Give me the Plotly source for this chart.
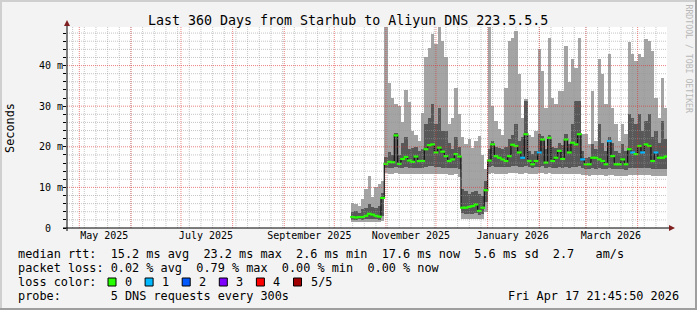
import plotly.graph_objects as go
import pandas as pd

# ---------------- data (ms) ----------------
FIRST_SAMPLE = "2025-10-12"   # one sample every 2 days
LO  = [1.4,1.5,1.5,1.4,1.6,1.6,1.5,1.5,1.4,1.8,
       13.6,13.4,13.4,13.5,13.4,13.3,13.3,13.2,13.2,13.3,
       13.2,13.2,13.3,13.4,13.4,13.3,13.3,13.2,13.2,13.1,
       13.1,13.2,12.5,2.3,2.3,2.2,2.2,2.3,2.1,2.2,
       4.0,13.4,13.5,13.4,13.4,13.4,13.4,13.5,13.5,13.5,
       13.4,13.4,13.5,13.4,13.4,13.4,13.5,13.5,13.4,13.5,
       13.3,13.3,13.3,13.2,13.3,13.2,13.3,13.3,13.3,13.1,
       13.0,12.9,13.0,13.0,13.1,13.0,12.9,13.0,13.0,12.9,
       12.9,12.9,12.8,13.0,13.0,13.0,13.1,13.0,13.1,13.1,
       12.9,12.9,12.8,12.9,12.8]
DLO = [2.0,2.0,2.1,2.0,2.2,2.3,2.2,2.1,2.0,3.0,
       14.8,14.8,14.9,15.0,14.9,14.9,15.0,14.8,14.8,14.9,
       14.8,14.8,15.0,15.2,15.3,15.0,15.0,14.9,14.9,14.8,
       14.8,14.9,14.5,3.6,3.5,3.5,3.5,3.6,3.3,3.4,
       6.5,15.0,15.2,15.0,15.0,15.0,15.0,15.1,15.2,15.2,
       15.0,15.0,15.2,15.0,14.9,15.0,15.1,15.2,14.9,15.1,
       14.9,14.9,15.0,14.8,15.0,14.9,15.0,15.1,15.2,14.7,
       14.6,14.5,14.7,14.6,14.7,14.6,14.5,14.7,14.6,14.5,
       14.5,14.5,14.4,14.7,14.7,14.7,14.8,14.7,14.8,14.8,
       14.6,14.6,14.5,14.6,14.5]
MED = [2.7,2.6,2.7,2.7,3.0,3.5,3.3,3.0,2.8,7.4,
       15.8,16.3,16.2,22.8,15.8,17.0,17.5,16.6,16.3,17.6,
       16.5,16.5,19.4,20.4,20.6,18.6,19.8,18.8,17.7,16.5,
       16.9,18.2,17.6,5.0,5.0,5.2,5.4,5.8,4.2,5.0,
       9.3,16.6,20.6,17.7,17.3,16.9,16.5,17.7,20.5,20.2,
       18.6,17.3,23.1,16.5,15.7,16.5,18.6,21.8,16.1,22.2,
       16.5,17.3,19.0,17.0,21.8,18.6,21.0,20.6,23.1,16.9,
       15.7,15.7,17.3,17.3,16.9,16.5,15.7,21.4,17.7,15.7,
       15.7,16.9,15.7,19.4,18.6,18.2,20.2,18.6,20.6,20.2,
       16.5,18.6,17.3,17.3,17.6]
DHI = [4.0,4.3,3.8,4.6,5.0,5.8,5.2,5.0,5.5,8.5,
       17.5,18.6,18.0,23.5,18.0,21.0,22.3,19.5,19.8,20.0,
       19.0,19.5,25.5,27.2,30.5,25.5,29.6,23.9,23.9,21.0,
       19.5,22.3,20.0,9.5,9.0,8.3,8.8,9.1,8.3,8.0,
       11.5,19.5,21.5,20.0,19.8,19.5,20.0,22.0,23.0,25.5,
       21.4,22.3,31.3,19.0,18.2,19.0,23.1,22.6,19.5,22.8,
       20.0,19.8,21.0,20.5,23.1,20.6,25.5,31.3,31.3,19.0,
       17.3,17.5,20.6,19.5,25.5,21.0,19.0,22.3,21.0,19.0,
       18.5,20.6,19.0,28.0,27.2,25.5,28.0,23.9,26.4,28.0,
       22.3,23.9,21.0,26.4,22.0]
HI  = [6.2,5.8,5.4,7.2,9.5,12.8,7.6,10.0,10.8,11.6,
       50.0,35.8,32.0,30.5,30.0,26.0,34.0,31.0,24.0,23.0,
       21.5,28.4,42.0,44.4,47.7,45.2,50.0,46.0,42.0,25.5,
       27.2,34.6,28.0,22.3,20.6,21.8,19.8,21.4,22.7,18.0,
       14.5,50.0,30.0,26.4,24.5,23.0,34.6,46.0,46.9,48.5,
       37.9,27.2,31.8,23.0,22.3,23.9,44.0,38.7,29.6,46.9,
       32.1,30.5,33.8,33.8,44.8,36.0,41.6,39.5,46.9,23.1,
       23.1,20.6,33.8,21.4,41.6,37.9,30.5,42.8,29.6,25.5,
       21.4,25.5,23.1,45.7,42.8,41.1,42.8,42.0,46.5,46.1,
       43.6,32.1,27.2,37.0,29.6]
LOSS = [0,0,0,0,0,0,0,0,0,0,
        0,0,0,0,0,0,0,0,0,0,
        0,0,0,0,0,0,0,0,0,0,
        0,0,0,0,0,0,0,0,0,0,
        0,0,0,0,0,0,0,0,0,0,
        0,1,0,0,0,0,1,0,0,0,
        0,0,0,0,0,0,0,0,0,1,
        0,0,0,0,0,0,0,1,0,0,
        0,0,0,0,1,0,0,1,0,0,
        0,1,0,0,0]

LOSS_LABELS = ["0", "1", "2", "3", "4", "5/5"]
LOSS_COLORS = ["#26ff00", "#00b8ff", "#0059ff", "#7e00ff", "#ff0000", "#a10000"]

X_START = "2025-04-23 15:00"
X_END = "2026-04-18 15:00"
MONTH_GRID = ["2025-05-01", "2025-06-01", "2025-07-01", "2025-08-01", "2025-09-01",
              "2025-10-01", "2025-11-01", "2025-12-01", "2026-01-01", "2026-02-01",
              "2026-03-01", "2026-04-01"]
LABEL_DATES = ["2025-05-16", "2025-07-16", "2025-09-16", "2025-11-16", "2026-01-16", "2026-03-16"]
LABEL_TEXT = ["May 2025", "July 2025", "September 2025", "November 2025", "January 2026", "March 2026"]
Y_TICKS = [0, 10, 20, 30, 40]
Y_TICKTEXT = ["0\u00a0\u00a0", "10 m", "20 m", "30 m", "40 m"]
Y_MAX = 49.5

TITLE = "Last 360 Days from Starhub to Aliyun DNS 223.5.5.5"
LEGEND_LINES = [
    "median rtt:  15.2 ms avg  23.2 ms max  2.6 ms min  17.6 ms now  5.6 ms sd  2.7   am/s",
    "packet loss: 0.02 % avg  0.79 % max  0.00 % min  0.00 % now",
    "loss color:",
    "probe:       5 DNS requests every 300s",
]
DATE_STAMP = "Fri Apr 17 21:45:50 2026"

# ---------------- figure ----------------
W, H = 697, 310
L, R, T, B = 67, 30, 27, 82
PW, PH = W - L - R, H - T - B
MONO = "DejaVu Sans Mono"

def px(x):
    return (x - L) / PW

def py(y):
    return (H - B - y) / PH

dates = pd.date_range(FIRST_SAMPLE, periods=len(MED), freq="2D")
day = pd.Timedelta(days=1)
bw = 2 * 86400000

fig = go.Figure()
fig.add_trace(go.Bar(x=dates, base=LO, y=[h - l for h, l in zip(HI, LO)], width=bw,
                     marker=dict(color="#a4a4a4", line=dict(width=0)), hoverinfo="skip"))
fig.add_trace(go.Bar(x=dates, base=DLO, y=[h - l for h, l in zip(DHI, DLO)], width=bw,
                     marker=dict(color="#585858", line=dict(width=0)), hoverinfo="skip"))
step_x = list(dates - day) + [dates[-1] + day]
step_y = MED + [MED[-1]]
fig.add_trace(go.Scatter(x=step_x, y=step_y, mode="lines", line=dict(shape="hv", color="#111111", width=1.2),
                         hoverinfo="skip"))
fig.add_trace(go.Scatter(x=dates, y=MED, mode="markers",
                         marker=dict(symbol="line-ew", size=3.5,
                                     line=dict(width=2.2, color=[LOSS_COLORS[l] for l in LOSS])),
                         hoverinfo="skip"))

shapes = []
GRID_GRAY = "rgba(150,150,150,0.55)"
GRID_RED = "rgba(222,48,48,0.6)"
DASH = "1px,1px"
for d in pd.date_range("2025-04-27", X_END, freq="7D"):
    shapes.append(dict(type="line", xref="x", yref="paper", x0=d, x1=d, y0=0, y1=1,
                       line=dict(color=GRID_GRAY, width=1, dash=DASH), layer="above"))
for v in range(2, int(Y_MAX) + 1, 2):
    if v % 10:
        shapes.append(dict(type="line", xref="paper", yref="y", x0=0, x1=1, y0=v, y1=v,
                           line=dict(color=GRID_GRAY, width=1, dash=DASH), layer="above"))
for d in MONTH_GRID:
    shapes.append(dict(type="line", xref="x", yref="paper", x0=d, x1=d, y0=0, y1=1,
                       line=dict(color=GRID_RED, width=1, dash=DASH), layer="above"))
for v in Y_TICKS[1:]:
    shapes.append(dict(type="line", xref="paper", yref="y", x0=0, x1=1, y0=v, y1=v,
                       line=dict(color=GRID_RED, width=1, dash=DASH), layer="above"))

# axes with arrows
shapes.append(dict(type="line", xref="paper", yref="paper", x0=px(67), x1=px(67), y0=py(231), y1=py(24),
                   line=dict(color="black", width=1), layer="above"))
shapes.append(dict(type="line", xref="paper", yref="paper", x0=px(63), x1=px(671), y0=py(228), y1=py(228),
                   line=dict(color="black", width=1), layer="above"))
shapes.append(dict(type="path", xref="paper", yref="paper",
                   path=f"M {px(64)} {py(26)} L {px(70)} {py(26)} L {px(67)} {py(20)} Z",
                   fillcolor="#7f1f1f", line=dict(width=0), layer="above"))
shapes.append(dict(type="path", xref="paper", yref="paper",
                   path=f"M {px(669)} {py(225)} L {px(669)} {py(231)} L {px(675)} {py(228)} Z",
                   fillcolor="#7f1f1f", line=dict(width=0), layer="above"))
# frame
shapes.append(dict(type="line", xref="paper", yref="paper", x0=px(0), x1=px(697), y0=py(1), y1=py(1),
                   line=dict(color="#cfcfcf", width=2)))
shapes.append(dict(type="line", xref="paper", yref="paper", x0=px(1), x1=px(1), y0=py(0), y1=py(310),
                   line=dict(color="#cfcfcf", width=2)))
shapes.append(dict(type="line", xref="paper", yref="paper", x0=px(696), x1=px(696), y0=py(0), y1=py(310),
                   line=dict(color="#9e9e9e", width=2)))
shapes.append(dict(type="line", xref="paper", yref="paper", x0=px(0), x1=px(697), y0=py(309), y1=py(309),
                   line=dict(color="#9e9e9e", width=2)))

annotations = []
def txt(text, x, y, size=11.85, xanchor="left", color="black", angle=0):
    annotations.append(dict(text=text.replace(" ", "\u00a0"), x=px(x), y=py(y), xref="paper", yref="paper",
                            xanchor=xanchor, yanchor="middle", showarrow=False, textangle=angle,
                            font=dict(family=MONO, size=size, color=color)))

txt(TITLE, 348, 20, size=13.3, xanchor="center")
txt("Seconds", 10, 128, xanchor="center", angle=-90)
txt("RRDTOOL / TOBI OETIKER", 688.5, 59, size=8.2, xanchor="center", color="#b8b8b8", angle=90)
for i, line in enumerate(LEGEND_LINES):
    txt(line, 16, 254.3 + 14 * i)
txt(DATE_STAMP, 681, 296.3, xanchor="right")
for i, (lab, col) in enumerate(zip(LOSS_LABELS, LOSS_COLORS)):
    x0 = 108 + 37.1 * i
    shapes.append(dict(type="rect", xref="paper", yref="paper", x0=px(x0), x1=px(x0 + 8),
                       y0=py(286), y1=py(278), fillcolor=col, line=dict(color="black", width=1)))
    txt(lab, x0 + 15, 282.3)

fig.update_layout(
    width=W, height=H, margin=dict(l=L, r=R, t=T, b=B, pad=0),
    paper_bgcolor="#f3f3f3", plot_bgcolor="white",
    barmode="overlay", bargap=0, showlegend=False,
    shapes=shapes, annotations=annotations,
    xaxis=dict(type="date", range=[X_START, X_END], tickmode="array", tickvals=LABEL_DATES,
               ticktext=LABEL_TEXT, ticks="", showgrid=False, zeroline=False, showline=False,
               tickfont=dict(family=MONO, size=10, color="black"), fixedrange=True),
    yaxis=dict(range=[0, Y_MAX], tickmode="array", tickvals=Y_TICKS, ticktext=Y_TICKTEXT,
               ticks="outside", ticklen=3, tickcolor="black", tickwidth=1, ticklabelstandoff=-2,
               minor=dict(tickmode="linear", tick0=0, dtick=2, ticks="outside", ticklen=3,
                          tickcolor="black", showgrid=False),
               showgrid=False, zeroline=False, showline=False,
               tickfont=dict(family=MONO, size=10, color="black"), fixedrange=True),
)
fig.write_html("out.html")
